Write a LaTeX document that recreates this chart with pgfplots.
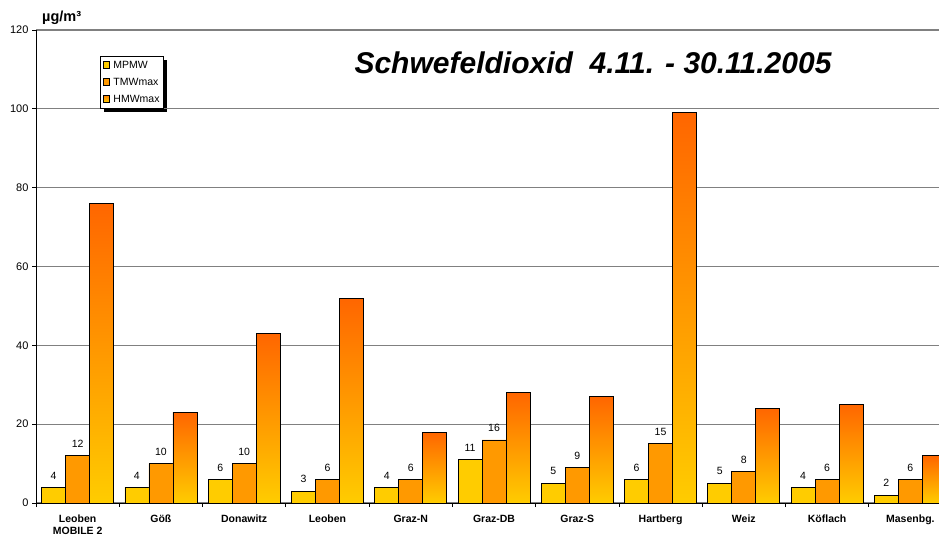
\documentclass[border=0pt]{standalone}
\usepackage{pgfplots}
\pgfplotsset{compat=1.18}
\usepackage{fontspec}
\setmainfont{Liberation Sans}
\usetikzlibrary{backgrounds}
\definecolor{mpmw}{HTML}{FFCC00}
\definecolor{tmw}{HTML}{FF9900}
\definecolor{hmwtop}{HTML}{FF6600}
\definecolor{gridgray}{HTML}{808080}
\begin{document}
\begin{tikzpicture}
\useasboundingbox (0,0) rectangle (939pt,536pt);
\clip (0,0) rectangle (939pt,536pt);
\begin{axis}[
  at={(36pt,33pt)}, anchor=south west,
  scale only axis, width=916pt, height=473pt,
  xmin=-0.5, xmax=10.5, ymin=0, ymax=120,
  ytick={0,20,...,120},
  xtick={-0.5,0.5,...,10.5},
  x tick label as interval,
  xticklabels={{Leoben\\MOBILE 2},Göß,Donawitz,Leoben,Graz-N,Graz-DB,Graz-S,Hartberg,Weiz,Köflach,Masenbg.},
  xticklabel style={font=\bfseries\fontsize{10.5}{11.5}\selectfont, align=center, yshift=-4.5pt},
  yticklabel style={font=\fontsize{11}{13}\selectfont},
  /pgf/number format/assume math mode=true,
  axis x line=bottom, axis y line=left,
  axis line style={-, black, line width=0.8pt},
  tick align=outside, major tick length=4pt,
  tick style={black, line width=0.8pt},
  ymajorgrids, grid style={gridgray, line width=1.2pt},
  ybar=0pt, bar width=24pt,
  legend style={name=leg, at={(axis description cs:0.0699,0.945)}, anchor=north west,
    font=\fontsize{10.5}{12}\selectfont, draw=black, line width=0.6pt,
    inner xsep=2.5pt, inner ysep=3.5pt, row sep=6.5pt, column sep=2pt, fill=white,
    nodes={inner xsep=1.5pt, inner ysep=1pt, text height=7.5pt, text depth=1pt}},
  legend cell align=left,
  legend image code/.code={\draw[#1, line width=0.6pt] (0.5pt,-3pt) rectangle (7pt,3.5pt);},
  nodes near coords style={font=\fontsize{10.5}{12}\selectfont, black, yshift=4.5pt, /pgf/number format/assume math mode=true},
]
\addplot[bar shift=-24pt, draw=black, line width=0.8pt, fill=mpmw, nodes near coords] coordinates {
(0,4) (1,4) (2,6) (3,3) (4,4) (5,11) (6,5) (7,6) (8,5) (9,4) (10,2)};
\addplot[bar shift=0pt, draw=black, line width=0.8pt, fill=tmw, nodes near coords] coordinates {
(0,12) (1,10) (2,10) (3,6) (4,6) (5,16) (6,9) (7,15) (8,8) (9,6) (10,6)};
\addlegendimage{draw=black, top color=hmwtop!70!mpmw, bottom color=mpmw}
\pgfplotsset{hmw/.style={bar shift=24pt, draw=black, line width=0.8pt, top color=hmwtop, bottom color=mpmw, forget plot}}
\addplot[hmw] coordinates {(0,76)};
\addplot[hmw] coordinates {(1,23)};
\addplot[hmw] coordinates {(2,43)};
\addplot[hmw] coordinates {(3,52)};
\addplot[hmw] coordinates {(4,18)};
\addplot[hmw] coordinates {(5,28)};
\addplot[hmw] coordinates {(6,27)};
\addplot[hmw] coordinates {(7,99)};
\addplot[hmw] coordinates {(8,24)};
\addplot[hmw] coordinates {(9,25)};
\addplot[hmw] coordinates {(10,12)};
\legend{MPMW,TMWmax,HMWmax}
\end{axis}
\begin{pgfonlayer}{background}
\fill[black] ([xshift=3.5pt,yshift=-3.5pt]leg.south west) rectangle ([xshift=3.5pt,yshift=-3.5pt]leg.north east);
\end{pgfonlayer}
\node[anchor=base west, inner sep=0pt, font=\bfseries\fontsize{14.5}{16}\selectfont] at (42pt,514pt) {µg/m³};
\node[anchor=base, font=\bfseries\itshape\fontsize{30}{34}\selectfont] at (593pt,462pt) {Schwefeldioxid\ \ 4.11. - 30.11.2005};
\end{tikzpicture}
\end{document}
